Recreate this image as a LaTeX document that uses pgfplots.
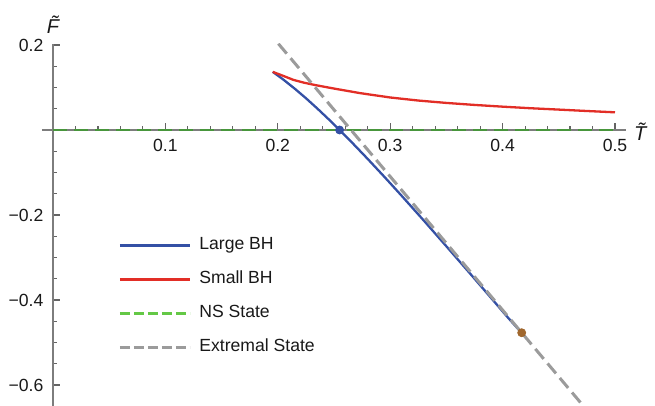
\documentclass[border=0pt]{standalone}
\usepackage{fontspec}
\setmainfont{Liberation Sans}
\usepackage{pgfplots}
\pgfplotsset{compat=1.18}
\definecolor{cBlue}{RGB}{52,80,165}
\definecolor{cRed}{RGB}{226,46,38}
\definecolor{cGreen}{RGB}{72,150,60}
\definecolor{cGreenL}{RGB}{100,200,70}
\definecolor{cGray}{RGB}{155,155,155}
\definecolor{cBrown}{RGB}{160,103,45}
\definecolor{cAxis}{RGB}{125,125,125}
\definecolor{cText}{RGB}{25,25,25}
\begin{document}
\begin{tikzpicture}
\useasboundingbox (-26.5pt,-138pt) rectangle (301pt,65pt);
\begin{axis}[
  anchor=origin, at={(0pt,0pt)},
  x=562pt, y=212.5pt,
  xmin=-0.0098, xmax=0.5098, ymin=-0.65, ymax=0.203,
  axis lines=middle,
  axis line style={cAxis, line width=0.55pt, -},
  tick style={cAxis!80!black, line width=0.55pt},
  tick align=inside,
  major tick length=3.3pt, minor tick length=2.2pt,
  xtick={0,0.1,0.2,0.3,0.4,0.5},
  xticklabels={,0.1,0.2,0.3,0.4,0.5},
  ytick={-0.6,-0.4,-0.2,0,0.2},
  yticklabels={−0.6,−0.4,−0.2,,0.2},
  minor xtick={0.02,0.04,0.06,0.08,0.12,0.14,0.16,0.18,0.22,0.24,0.26,0.28,0.32,0.34,0.36,0.38,0.42,0.44,0.46,0.48},
  minor ytick={-0.65,-0.55,-0.5,-0.45,-0.35,-0.3,-0.25,-0.15,-0.1,-0.05,0.05,0.1,0.15},
  ticklabel style={font=\fontsize{8.8}{10}\selectfont, text=cText},
  xticklabel style={yshift=-1.0pt},
  yticklabel style={xshift=-1.3pt},
  xlabel={\textit{\~T}},
  ylabel={\textit{\~F}},
  xlabel style={at={(current axis.right of origin)}, anchor=west, font=\fontsize{10}{12}\selectfont, text=cText, xshift=0.5pt, yshift=-1pt},
  ylabel style={at={(current axis.above origin)}, anchor=south, font=\fontsize{10}{12}\selectfont, text=cText, yshift=1.5pt},
  legend image code/.code={\draw[#1] (0pt,0pt) -- (35pt,0pt);},
  legend style={at={(axis cs:0.0578,-0.2518)}, anchor=north west, draw=none, fill=none,
    font=\fontsize{8.8}{10}\selectfont, text=cText, row sep=9pt, column sep=4pt,
    inner sep=0pt, nodes={inner sep=0pt, text height=6pt, text depth=2pt}},
  legend cell align=left,
]
\addplot[cBlue, line width=1.15pt, forget plot] table {
0.1955 0.1368
0.205 0.1185
0.215 0.0974
0.225 0.0749
0.235 0.0509
0.245 0.0259
0.255 0.0000
0.265 -0.0267
0.28 -0.0681
0.295 -0.1107
0.31 -0.1542
0.33 -0.2134
0.35 -0.2737
0.37 -0.3345
0.39 -0.3959
0.405 -0.4422
0.417 -0.4775
};
\addplot[cRed, line width=1.15pt, forget plot] table {
0.1955 0.1368
0.205 0.1272
0.2138 0.1180
0.223 0.1115
0.2331 0.1058
0.25 0.0975
0.2731 0.0868
0.30 0.0765
0.325 0.0693
0.35 0.0637
0.375 0.0590
0.40 0.0549
0.425 0.0512
0.45 0.0480
0.475 0.0447
0.50 0.0416
};
\addplot[cGreen, line width=1.25pt, dash pattern=on 7pt off 3.5pt, forget plot] table {
0 0
0.5 0
};
\addplot[cGray, line width=1.5pt, dash pattern=on 6.5pt off 3pt, forget plot] table {
0.2005 0.2031
0.4720 -0.6498
};
\addplot[only marks, mark=*, mark size=2pt, cBlue, forget plot] table {
0.255 0
};
\addplot[only marks, mark=*, mark size=2pt, cBrown, forget plot] table {
0.417 -0.477
};
\addlegendimage{cBlue, line width=1.15pt}
\addlegendentry{Large BH}
\addlegendimage{cRed, line width=1.15pt}
\addlegendentry{Small BH}
\addlegendimage{cGreenL, line width=1.25pt, dash pattern=on 5pt off 2pt}
\addlegendentry{NS State}
\addlegendimage{cGray, line width=1.5pt, dash pattern=on 5pt off 2pt}
\addlegendentry{Extremal State}
\end{axis}
\end{tikzpicture}
\end{document}
